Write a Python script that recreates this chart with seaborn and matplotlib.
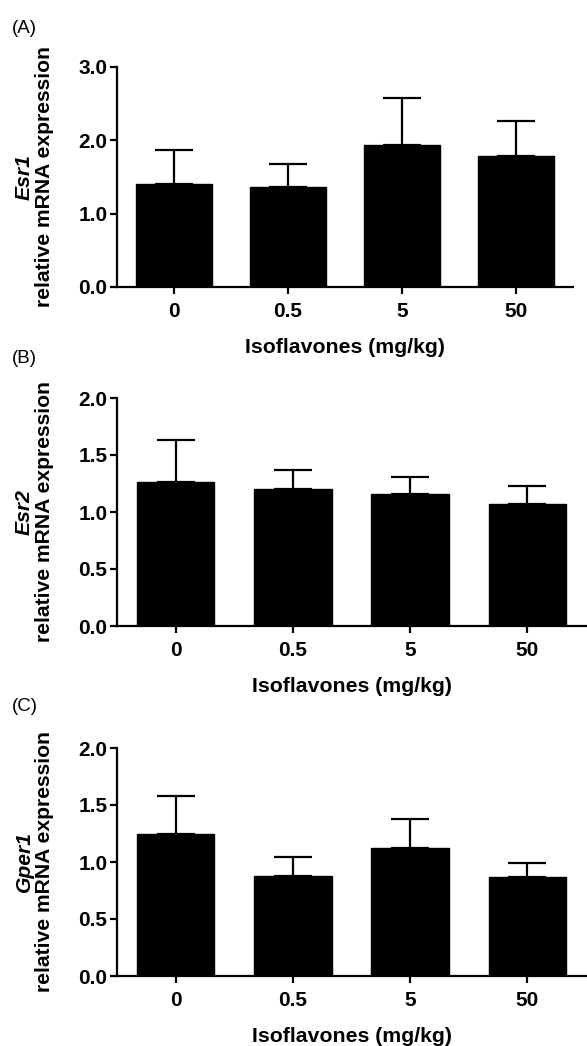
# Isoflavone dose vs. estrogen receptor mRNA expression

import numpy as np
import pandas as pd
import matplotlib
matplotlib.use("Agg")
import matplotlib.pyplot as plt
import seaborn as sns

sns.set_style("ticks")
plt.rcParams['font.family'] = ['Liberation Sans', 'DejaVu Sans']
plt.rcParams.update({'text.color': 'black', 'axes.labelcolor': 'black',
                     'xtick.color': 'black', 'ytick.color': 'black',
                     'axes.edgecolor': 'black'})

# Data (mean and upper error)
doses = ['0', '0.5', '5', '50']
esr1_mean = [1.40, 1.36, 1.94, 1.78]
esr1_err = [0.47, 0.32, 0.64, 0.49]
esr2_mean = [1.26, 1.20, 1.16, 1.07]
esr2_err = [0.37, 0.17, 0.15, 0.16]
gper1_mean = [1.25, 0.88, 1.12, 0.87]
gper1_err = [0.33, 0.16, 0.26, 0.12]

esr1_ticks = [0.0, 1.0, 2.0, 3.0]
esr2_ticks = [0.0, 0.5, 1.0, 1.5, 2.0]
gper1_ticks = [0.0, 0.5, 1.0, 1.5, 2.0]

panel_letters = ['(A)', '(B)', '(C)']
gene_names = ['Esr1', 'Esr2', 'Gper1']
x_title = 'Isoflavones (mg/kg)'
y_title = 'relative mRNA expression'

W, H = 587, 1046
fig = plt.figure(figsize=(W / 100, H / 100), dpi=100)

# axes boxes in pixels: left, right, top, bottom
boxes = [(117, 573, 67, 287), (117, 586, 398, 626), (117, 586, 748, 976)]
letter_tops = [20, 350, 698]

panels = [(esr1_mean, esr1_err, esr1_ticks),
          (esr2_mean, esr2_err, esr2_ticks),
          (gper1_mean, gper1_err, gper1_ticks)]

for i, (mean, err, ticks) in enumerate(panels):
    l, r, t, b = boxes[i]
    ax = fig.add_axes([l / W, 1 - b / H, (r - l) / W, (b - t) / H])
    df = pd.DataFrame({'dose': doses, 'value': mean})
    sns.barplot(data=df, x='dose', y='value', color='black', saturation=1,
                width=0.66, errorbar=None, edgecolor='black', ax=ax)
    ax.errorbar(x=np.arange(len(doses)), y=mean, yerr=[np.zeros(len(err)), err],
                fmt='none', ecolor='black', elinewidth=1.6, capsize=13.5, capthick=1.6)

    ax.set_xlim(-0.5, 3.5)
    ax.set_ylim(ticks[0], ticks[-1])
    ax.set_yticks(ticks)
    ax.set_yticklabels([f'{v:.1f}' for v in ticks])
    sns.despine(ax=ax)
    for side in ['left', 'bottom']:
        ax.spines[side].set_linewidth(1.6)
    ax.tick_params(axis='both', width=1.6, length=5, labelsize=15, pad=2)
    ax.tick_params(axis='x', pad=6)
    for lab in ax.get_xticklabels() + ax.get_yticklabels():
        lab.set_fontweight('bold')

    ax.set_xlabel(x_title, fontsize=15.3, fontweight='bold', labelpad=12)
    ax.set_ylabel('')

    # two-line y label: italic gene name over plain bold text
    yc = 1 - (t + b) / 2 / H
    fig.text(45 / W, yc, y_title, rotation=90, ha='center', va='center',
             fontsize=15.2, fontweight='bold')
    fig.text(24 / W, yc, gene_names[i], rotation=90, ha='center', va='center',
             fontsize=15.2, fontweight='bold', fontstyle='italic')

    fig.text(12 / W, 1 - letter_tops[i] / H, panel_letters[i],
             ha='left', va='top', fontsize=13.5)

fig.savefig('out.png', dpi=100)
